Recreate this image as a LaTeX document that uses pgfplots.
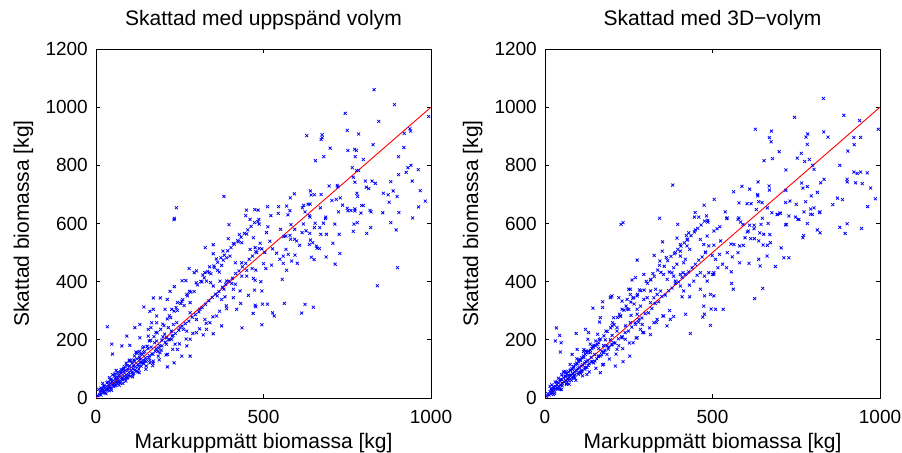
\documentclass[border=0pt]{standalone}
\usepackage{fontspec}
\setmainfont{Liberation Sans}
\usepackage{pgfplots}
\usepackage{pgfplotstable}
\pgfplotsset{compat=1.18}

\pgfplotstableread{
x y
830 1060
891 1009
993 968
744 979
844 951
750 920
784 908
629 902
675 905
675 895
672 889
937 926
939 918
920 910
699 859
772 855
777 851
752 851
827 871
919 861
680 830
774 830
903 830
798 820
655 816
940 800
931 792
926 776
903 768
962 785
765 792
784 782
778 782
768 759
773 742
804 746
824 746
834 738
944 746
720 731
722 726
696 729
880 744
807 725
814 720
887 712
858 704
872 699
899 693
968 713
779 704
781 693
640 712
642 698
652 699
672 700
592 702
580 688
729 688
717 683
704 679
875 673
983 677
798 662
793 662
736 663
670 654
620 662
633 666
639 667
616 654
569 660
545 658
512 658
382 693
240 654
449 646
474 648
484 646
579 644
544 635
522 627
573 630
447 627
624 640
750 652
752 644
761 645
773 650
773 643
818 645
821 640
724 640
904 638
963 657
945 619
791 636
637 627
639 622
686 622
234 618
460 614
486 614
487 598
582 596
619 598
654 601
679 601
652 586
668 586
685 617
856 637
880 603
713 598
780 603
770 598
768 573
808 566
820 586
896 578
726 563
671 563
688 563
638 566
615 569
593 580
627 575
233 613
397 596
513 589
509 569
551 580
561 555
567 557
579 559
581 546
593 546
599 540
608 525
637 528
647 534
640 543
658 522
667 514
660 515
643 484
651 476
707 532
728 497
687 485
714 460
900 448
840 386
584 471
601 463
594 491
567 511
559 488
574 494
326 517
350 527
350 496
395 548
410 531
425 537
435 534
450 564
428 562
470 551
475 517
490 532
495 513
460 511
480 500
504 500
519 539
527 513
539 498
549 477
559 463
569 439
556 408
500 462
507 445
524 457
477 440
466 445
450 439
435 465
416 465
400 488
390 482
380 474
375 456
368 433
352 454
363 439
338 431
325 431
300 437
293 431
278 445
316 399
330 402
350 385
342 397
370 402
390 402
405 394
410 374
416 391
430 368
435 419
450 419
470 411
475 405
492 400
495 368
473 371
455 353
410 345
385 348
375 339
362 351
382 374
390 307
420 305
432 325
475 319
477 314
497 323
512 323
527 293
532 282
562 325
614 292
624 322
649 312
469 291
436 241
495 252
360 282
375 248
325 270
340 259
310 305
281 328
271 356
257 403
268 404
234 383
221 367
213 339
192 344
171 344
171 305
143 313
161 298
181 282
206 305
226 305
243 328
256 333
281 293
300 270
330 236
350 221
320 217
300 225
281 202
271 230
261 236
251 242
231 253
241 259
216 242
181 259
166 259
164 242
156 236
131 253
116 242
92 213
131 207
156 213
181 196
196 199
211 207
226 202
236 185
243 167
271 179
281 144
256 144
233 121
213 150
191 156
186 144
161 121
213 107
171 127
142 156
121 156
101 181
77 179
47 185
49 151
34 245
82 99
112 110
131 133
141 121
5 8
10 12
12 20
15 10
18 25
20 18
22 30
25 22
28 35
30 28
32 40
35 30
38 45
40 38
42 50
45 35
48 55
50 45
52 60
55 50
58 42
60 65
62 55
65 70
68 60
70 80
72 52
75 85
78 70
80 62
82 90
85 75
88 95
90 80
92 68
95 100
98 88
100 110
102 75
105 95
108 120
110 100
112 85
115 125
118 108
120 92
122 135
125 115
128 100
130 140
132 122
135 110
138 150
140 130
142 118
145 160
148 138
150 125
25 40
35 55
45 65
55 75
65 88
75 98
85 108
15 35
30 15
40 25
60 45
70 55
80 50
95 70
110 80
125 90
60 95
50 80
40 70
90 120
100 130
115 145
130 160
20 50
8 30
170 150
180 170
160 145
190 180
200 210
175 190
165 175
155 170
205 220
210 185
220 200
230 215
225 230
195 165
185 160
150 110
160 130
170 120
23 41
37 29
44 61
53 39
57 83
63 49
67 77
73 91
77 64
83 102
87 66
93 112
97 79
103 128
107 88
113 131
117 97
123 154
127 109
133 151
137 121
143 176
147 129
153 178
157 139
163 198
167 152
173 211
177 161
183 224
187 171
193 236
197 179
203 249
207 192
213 272
217 201
223 276
227 213
233 299
237 222
243 301
247 233
253 325
257 247
263 318
267 256
273 351
277 264
283 364
287 278
293 366
297 287
303 389
307 296
313 401
317 311
323 413
327 322
333 435
337 334
343 427
347 346
353 448
357 357
363 467
367 366
373 482
377 381
383 491
387 391
393 506
397 402
403 517
407 412
413 529
417 428
423 541
427 437
433 553
437 451
443 566
447 463
453 578
457 477
463 590
467 488
473 603
477 503
483 606
487 514
16 29
27 18
33 52
46 27
59 71
69 44
79 96
89 58
99 127
109 73
119 158
129 87
139 172
149 99
159 196
169 111
179 226
189 131
199 254
209 148
219 283
229 167
239 311
249 186
259 338
269 203
279 367
289 222
299 396
309 238
319 423
329 257
339 451
349 279
359 478
369 298
379 505
389 317
}\leftdata

\pgfplotstableread{
x y
831 1030
892 972
939 954
995 924
745 965
628 924
676 918
670 895
675 881
784 908
779 897
832 915
845 897
922 896
942 896
783 872
923 871
904 849
699 847
765 841
753 825
789 820
775 813
679 823
654 816
880 800
799 800
803 786
719 784
922 777
932 772
942 777
962 774
902 752
902 743
927 740
947 737
972 722
833 752
823 740
766 739
783 727
770 722
813 707
795 695
636 743
669 729
670 715
635 699
635 695
611 718
588 728
563 709
719 714
505 683
381 732
475 663
579 671
603 668
615 668
638 675
648 672
664 654
677 637
693 631
701 636
718 672
731 677
750 666
778 675
859 665
873 687
888 682
986 685
963 658
793 650
803 654
773 640
793 632
819 637
821 640
728 626
748 622
755 614
631 648
538 640
448 638
446 622
459 622
482 626
579 619
544 619
342 618
649 618
486 605
542 617
584 605
576 614
591 597
611 594
624 594
645 597
666 600
694 631
703 635
758 614
798 631
783 600
813 578
821 568
880 587
902 599
896 566
945 583
772 559
770 551
721 597
718 595
624 582
641 568
653 563
671 562
604 571
607 574
597 551
614 548
625 548
638 540
673 534
651 526
664 525
705 516
713 482
728 482
688 452
642 454
609 463
638 477
663 488
576 500
592 525
581 523
564 528
555 529
544 500
559 485
581 465
556 434
542 448
516 448
504 431
500 425
530 460
521 494
499 490
509 477
479 502
474 528
489 523
504 525
524 540
514 582
522 589
504 574
484 557
464 545
449 578
429 568
422 559
424 543
404 528
394 550
396 597
424 523
432 511
404 505
389 500
404 488
419 477
414 465
394 460
384 448
379 431
371 433
354 425
365 408
384 419
404 425
412 431
389 402
404 385
414 368
431 388
444 402
454 422
464 431
476 419
484 402
489 431
504 425
464 374
476 351
494 356
504 351
409 348
432 348
474 316
496 306
509 305
532 305
557 394
562 374
650 377
626 342
476 288
471 278
494 250
434 222
420 288
384 280
374 270
364 248
354 282
335 270
325 259
315 218
295 225
290 253
280 270
275 288
257 284
250 305
275 305
285 316
315 328
325 345
335 356
345 368
330 374
315 368
305 345
295 339
275 351
265 345
255 356
250 374
245 339
230 333
220 345
200 351
195 345
172 331
172 311
143 309
165 276
163 261
205 276
230 305
225 282
200 248
215 242
240 248
255 259
270 253
285 236
275 207
263 190
240 202
230 207
215 167
200 185
185 179
157 219
130 225
121 236
93 222
128 202
151 196
175 156
160 144
145 121
116 167
96 167
81 150
46 158
48 190
44 215
34 241
31 196
210 110
233 125
253 144
165 87
175 116
125 81
106 87
86 76
275 474
227 597
233 603
351 537
350 505
343 471
326 490
260 406
270 414
295 425
315 408
255 374
197 348
5 6
8 15
12 10
15 22
18 14
20 28
22 20
25 32
28 25
30 40
32 30
35 45
38 35
40 52
42 40
45 58
48 45
50 62
52 50
55 70
58 55
60 75
62 60
65 82
68 65
70 90
72 70
75 95
78 78
80 100
82 85
85 108
88 90
90 115
92 95
95 120
98 100
100 125
102 105
105 130
108 110
110 138
112 115
115 145
118 120
120 150
122 125
125 155
128 130
130 160
132 118
135 165
138 140
140 170
142 125
145 175
148 150
150 180
20 45
30 55
40 68
50 80
60 92
70 60
80 70
90 80
100 88
110 95
120 105
15 40
25 12
45 30
65 50
85 70
105 85
125 105
55 90
75 115
95 135
115 160
135 185
160 190
170 160
180 200
190 175
200 215
165 145
155 135
185 150
205 190
215 230
220 180
230 210
160 170
175 180
195 200
26 38
39 31
47 64
51 42
61 86
64 47
71 79
76 96
79 61
86 106
89 69
96 117
99 82
106 131
109 91
116 139
119 99
126 158
129 112
136 156
139 124
146 181
149 127
156 184
159 142
166 203
169 149
176 214
179 164
186 229
189 168
196 241
199 182
206 252
209 189
216 277
219 204
226 281
229 210
236 302
239 225
246 306
249 230
256 330
259 244
266 323
269 259
276 356
279 261
286 369
289 275
296 371
299 290
306 394
309 293
316 406
319 308
326 418
329 325
336 440
339 331
346 432
349 349
356 453
359 354
366 472
369 369
376 487
379 378
386 496
389 394
396 511
399 399
406 522
409 415
416 534
419 425
426 546
429 434
436 558
439 448
446 571
449 460
456 583
459 474
466 595
469 485
476 608
479 500
486 611
18 31
29 16
36 55
49 29
62 74
72 47
82 99
92 61
102 131
112 76
122 162
132 90
142 176
152 102
162 201
172 114
182 230
192 134
202 259
212 151
222 288
232 170
242 316
252 189
262 343
272 206
282 372
292 225
302 401
312 241
322 428
332 260
342 456
352 282
362 483
372 301
}\rightdata

\pgfplotsset{
  mstyle/.style={
    width=335bp, height=349bp, scale only axis,
    xmin=0, xmax=1000, ymin=0, ymax=1200,
    xtick={0,500,1000}, ytick={0,200,...,1200},
    tick align=inside, major tick length=4bp,
    axis line style={line width=0.9bp},
    every tick/.style={black, line width=0.7bp},
    /pgf/number format/assume math mode=true,
    /pgf/number format/set thousands separator={},
    tick label style={font=\fontsize{19bp}{22bp}\selectfont, inner sep=0pt},
    yticklabel style={anchor=east, xshift=-8bp},
    xticklabel style={anchor=north, yshift=-12bp},
    label style={font=\fontsize{21bp}{25bp}\selectfont, inner sep=0pt},
    xlabel style={at={(axis description cs:0.5,-0.1433)}, anchor=base},
    ylabel style={at={(axis description cs:-0.2,0.5)}, anchor=base, rotate=0},
    title style={at={(axis description cs:0.5,1)}, anchor=base, yshift=18bp,
                 font=\fontsize{21bp}{25bp}\selectfont, inner sep=0pt},
    xlabel={Markuppmätt biomassa [kg]},
    ylabel={Skattad biomassa [kg]},
  },
  pts/.style={only marks, mark=x, mark size=2.1bp, blue, mark options={line width=0.75bp}},
  ref/.style={red, line width=0.9bp},
}

\begin{document}
\begin{tikzpicture}
\path[use as bounding box] (-96bp,-55bp) rectangle (806bp,398bp);
\begin{axis}[mstyle, at={(0,0)}, anchor=south west,
  title={Skattad med uppspänd volym}]
  \addplot[pts] table[x=x,y=y] {\leftdata};
  \addplot[ref] coordinates {(0,0) (1000,1000)};
\end{axis}
\begin{axis}[mstyle, at={(449bp,0)}, anchor=south west,
  title={Skattad med 3D−volym}]
  \addplot[pts] table[x=x,y=y] {\rightdata};
  \addplot[ref] coordinates {(0,0) (1000,1000)};
\end{axis}
\end{tikzpicture}
\end{document}
